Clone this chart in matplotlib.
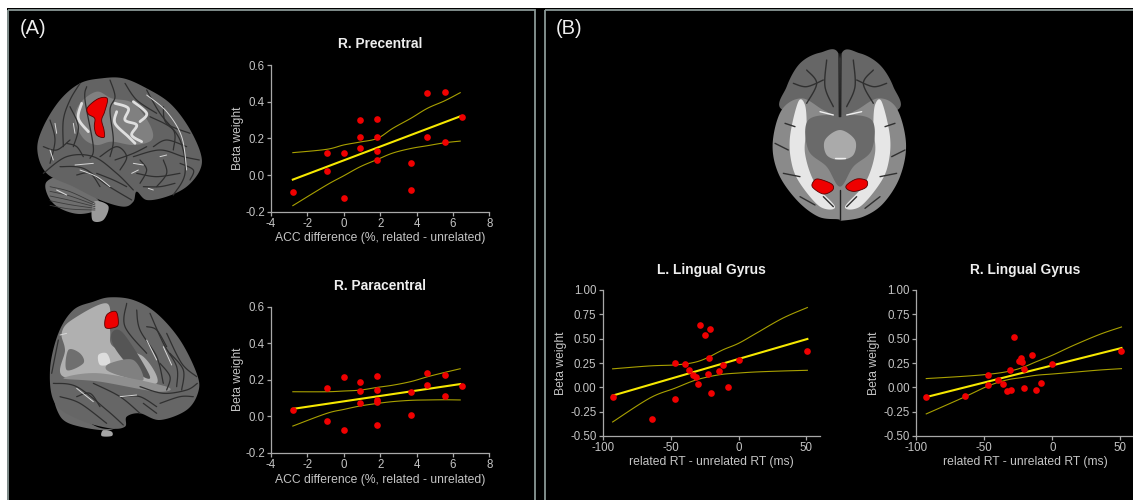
import numpy as np
import matplotlib
matplotlib.use("Agg")
import matplotlib.pyplot as plt
from matplotlib.patches import Polygon, Rectangle

plt.rcParams['font.family'] = ['Liberation Sans', 'DejaVu Sans']

# ---------- data ----------
acc_x = [-2.8, -0.9, -0.9, 0, 0, 0.9, 0.9, 0.9, 1.85, 1.85, 1.85, 1.85, 3.7, 3.7, 4.6, 4.6, 5.55, 5.55, 6.5]
prec_y = [-0.09, 0.12, 0.02, 0.12, -0.125, 0.30, 0.21, 0.15, 0.305, 0.21, 0.13, 0.08, 0.065, -0.08, 0.45, 0.205, 0.455, 0.18, 0.315]
para_x = [-2.8, -0.9, -0.9, 0, 0, 0.9, 0.9, 0.9, 1.85, 1.85, 1.85, 1.85, 1.85, 3.7, 3.7, 4.6, 4.6, 5.55, 5.55, 6.5]
para_y = [0.035, 0.155, -0.025, 0.215, -0.075, 0.185, 0.14, 0.075, 0.22, 0.145, 0.09, 0.08, -0.05, 0.13, 0.005, 0.235, 0.17, 0.225, 0.11, 0.165]

acc_band_x = [-2.8, -0.95, 0, 0.9, 1.85, 2.7, 3.7, 4.6, 5.55, 6.4]
prec_upper = [0.122, 0.14, 0.164, 0.18, 0.2, 0.255, 0.31, 0.364, 0.405, 0.449]
prec_lower = [-0.167, -0.055, -0.004, 0.045, 0.085, 0.12, 0.145, 0.16, 0.176, 0.185]
para_upper = [0.134, 0.134, 0.138, 0.143, 0.158, 0.17, 0.19, 0.216, 0.24, 0.26]
para_lower = [-0.054, 0.015, 0.037, 0.056, 0.07, 0.08, 0.087, 0.089, 0.09, 0.089]
acc_fit_x = [-2.8, 6.4]
prec_fit = [-0.025, 0.32]
para_fit = [0.04, 0.176]

ll_x = [-92.7, -63.6, -47, -47, -39.7, -36.5, -33.6, -31, -30, -28, -24.6, -21.3, -22, -22.5, -20.6, -14.6, -11.7, -8, 0, 50.7]
ll_y = [-0.10, -0.325, 0.25, -0.117, 0.236, 0.182, 0.13, 0.11, 0.035, 0.637, 0.538, 0.603, 0.305, 0.14, -0.055, 0.168, 0.226, 0.0, 0.277, 0.37]
ll_band_x = [-92.7, -65.3, -47, -33.6, -23.8, -11.7, 0, 13, 32.5, 50.7]
ll_upper = [0.19, 0.22, 0.23, 0.253, 0.298, 0.384, 0.452, 0.555, 0.71, 0.82]
ll_lower = [-0.356, -0.11, -0.01, 0.065, 0.103, 0.134, 0.147, 0.158, 0.168, 0.175]
ll_fit_x = [-92.7, 50.7]
ll_fit = [-0.085, 0.497]

rl_x = [-92.7, -63.9, -47.2, -47.2, -39.9, -36.6, -33.7, -30.3, -31, -28.4, -24.7, -22.8, -22, -21, -20.5, -14.7, -11.7, -8, 0, 50.8]
rl_y = [-0.10, -0.09, 0.128, 0.02, 0.08, 0.03, -0.037, -0.024, 0.18, 0.514, 0.27, 0.305, 0.257, 0.192, -0.01, 0.332, -0.024, 0.048, 0.243, 0.375]
rl_band_x = [-92.7, -65.5, -47.2, -33.7, -22.7, -11.7, 0, 15.4, 35, 50.8]
rl_upper = [0.09, 0.113, 0.134, 0.16, 0.2, 0.264, 0.33, 0.43, 0.545, 0.62]
rl_lower = [-0.273, -0.105, 0.014, 0.075, 0.1, 0.124, 0.137, 0.155, 0.178, 0.192]
rl_fit_x = [-92.7, 50.8]
rl_fit = [-0.10, 0.404]

acc_xticks = [-4, -2, 0, 2, 4, 6, 8]
acc_yticks = [-0.2, 0.0, 0.2, 0.4, 0.6]
rt_xticks = [-100, -50, 0, 50]
rt_yticks = [-0.50, -0.25, 0.00, 0.25, 0.50, 0.75, 1.00]
acc_label = "ACC difference (%, related - unrelated)"
rt_label = "related RT - unrelated RT (ms)"
y_label = "Beta weight"

# ---------- figure ----------
W, H = 1133, 500
fig = plt.figure(figsize=(W / 100, H / 100), dpi=100, facecolor='white')
bg = fig.add_axes([0, 0, 1, 1], zorder=0)
bg.set_xlim(0, W); bg.set_ylim(H, 0); bg.axis('off')

bg.add_patch(Rectangle((7, 8), W, H, fc='black', ec='none'))
for r in [(8, 9.5, 527, H), (544.5, 9.5, W, H)]:
    bg.add_patch(Rectangle(r[:2], r[2], r[3], fc='none', ec='#8a9896', lw=1.3))
bg.text(20, 29, "(A)", color='#eeeeee', fontsize=14.5, ha='left', va='center')
bg.text(556, 29, "(B)", color='#eeeeee', fontsize=14.5, ha='left', va='center')


def smooth(pts, closed=True, n=14):
    p = np.asarray(pts, float)
    if closed:
        q = np.vstack([p[-1], p, p[0], p[1]])
    else:
        q = np.vstack([p[0], p, p[-1]])
    out = []
    t = np.linspace(0, 1, n, endpoint=False)[:, None]
    for i in range(1, len(q) - 2):
        a, b, c, d = q[i - 1], q[i], q[i + 1], q[i + 2]
        out.append(0.5 * (2 * b + (c - a) * t + (2 * a - 5 * b + 4 * c - d) * t ** 2 + (3 * b - a - 3 * c + d) * t ** 3))
    out = np.vstack(out)
    return out if closed else np.vstack([out, p[-1]])


def blob(pts, ox, oy, fc, ec='none', lw=0, z=2, s=3.0):
    xy = smooth(np.asarray(pts, float) / s + [ox, oy])
    bg.add_patch(Polygon(xy, closed=True, fc=fc, ec=ec, lw=lw, zorder=z))


def curve(pts, ox, oy, c, lw=1.0, z=3, s=3.0):
    xy = smooth(np.asarray(pts, float) / s + [ox, oy], closed=False)
    bg.plot(xy[:, 0], xy[:, 1], color=c, lw=lw, zorder=z, solid_capstyle='round')


DARK = '#303030'
HI = '#d8d8d8'

# --- lateral brain (top left), outline in zoomed picture units
o = (0, 0)
blob([(140, 545), (200, 530), (285, 590), (300, 625), (240, 642), (180, 625), (145, 590)], *o, '#6e6e6e', z=2)
for k in range(5):
    curve([(150, 560 + k * 14), (210, 575 + k * 13), (285, 610 + k * 5)], *o, '#3c3c3c', 0.6)
curve([(170, 570), (200, 585)], *o, HI, 0.8)
blob([(282, 605), (325, 618), (310, 660), (277, 660)], *o, '#9a9a9a', z=2)
blob([(305, 235), (370, 235), (440, 265), (510, 310), (565, 380), (602, 460), (600, 510), (560, 560), (500, 590),
      (440, 600), (410, 575), (400, 605), (370, 620), (300, 600), (220, 560), (140, 520), (112, 450), (130, 380),
      (180, 300), (240, 250)], *o, '#636363', z=3)
blob([(240, 310), (290, 275), (335, 295), (400, 310), (450, 375), (455, 420), (400, 435), (335, 425), (290, 435),
      (250, 415), (225, 360)], *o, '#808080', z=3)
for c_ in [[(345, 310), (385, 325), (375, 360), (410, 375), (395, 405), (425, 425)],
           [(350, 335), (345, 370), (385, 410), (405, 430)],
           [(245, 310), (235, 355), (265, 395)],
           [(400, 305), (440, 340), (420, 365)]]:
    curve(c_, *o, '#dedede', 2.0, z=4)
sulci1 = [
    [(130, 520), (200, 470), (280, 470), (350, 520), (400, 570)],
    [(180, 500), (250, 505), (320, 555), (395, 600)],
    [(240, 250), (210, 300), (190, 360), (190, 440)],
    [(150, 360), (165, 420), (150, 490)],
    [(330, 240), (345, 290), (330, 330), (340, 420), (330, 470)],
    [(260, 260), (255, 300), (280, 440), (270, 475)],
    [(440, 270), (480, 340), (540, 420), (555, 520), (520, 585)],
    [(400, 470), (480, 450), (550, 470), (598, 480)],
    [(410, 520), (470, 530), (540, 520)],
    [(450, 350), (520, 390), (520, 450)],
    [(345, 480), (400, 460), (440, 440)],
    [(430, 560), (480, 560), (525, 550)],
    [(200, 430), (230, 440), (250, 470)],
    [(130, 440), (170, 450), (210, 420)],
    [(210, 320), (235, 380), (220, 440)],
    [(375, 250), (410, 300), (470, 340)],
    [(490, 320), (500, 370), (570, 400)],
    [(460, 440), (500, 420), (560, 440)],
    [(300, 470), (350, 440), (380, 470), (360, 510)],
    [(420, 480), (440, 510), (420, 550)],
    [(490, 480), (500, 520), (470, 560)],
    [(540, 490), (580, 510), (570, 540)],
    [(230, 525), (270, 520), (300, 560)],
    [(290, 520), (340, 540), (380, 560)],
]
for c_ in sulci1:
    curve(c_, *o, DARK, 0.9, z=4)
for c_ in [[(225, 495), (280, 490)], [(240, 510), (290, 530), (330, 560)], [(440, 285), (500, 335), (545, 410), (560, 510)],
           [(400, 490), (430, 495)], [(165, 370), (170, 400)], [(445, 565), (460, 570)], [(220, 370), (225, 400)],
           [(150, 450), (160, 480)], [(480, 470), (500, 465)], [(395, 520), (415, 510)]]:
    curve(c_, *o, HI, 0.7, z=5)
blob([(263, 322), (295, 296), (322, 296), (314, 335), (305, 360), (312, 390), (312, 412), (290, 405), (283, 380), (284, 355), (265, 342)],
     *o, '#ee0000', ec='#5a0000', lw=0.6, z=6)

# --- sagittal cut brain (bottom left)
o = (0, 270)
blob([(310, 480), (335, 485), (335, 498), (305, 498)], *o, '#a5a5a5', z=2)
blob([(165, 385), (230, 430), (290, 470), (340, 475), (375, 450), (330, 480), (240, 470), (185, 445)], *o, '#6a6a6a', z=2)
blob([(330, 82), (400, 90), (470, 130), (540, 210), (590, 310), (595, 365), (560, 420), (480, 450), (420, 430),
      (380, 440), (375, 470), (330, 475), (240, 450), (165, 400), (150, 300), (175, 190), (220, 120), (280, 95)], *o, '#666666', z=3)
blob([(215, 150), (320, 100), (330, 180), (340, 230), (430, 260), (470, 340), (350, 320), (190, 320), (195, 240), (185, 190)],
     *o, '#b0b0b0', z=4)
blob([(205, 240), (240, 250), (250, 280), (200, 300)], *o, '#6f6f6f', z=5)
blob([(335, 190), (370, 190), (450, 320), (400, 300), (345, 235)], *o, '#555555', z=5)
blob([(295, 255), (320, 250), (330, 280), (300, 285)], *o, '#dddddd', z=5)
blob([(330, 280), (400, 270), (430, 330), (370, 320), (320, 300)], *o, '#808080', z=5)
blob([(190, 325), (300, 310), (500, 350), (470, 365), (300, 335)], *o, '#8f8f8f', z=5)
sulci2 = [
    [(160, 340), (230, 350), (320, 420), (370, 465)],
    [(180, 380), (240, 400), (320, 460)],
    [(280, 340), (360, 380), (420, 430)],
    [(420, 350), (490, 370), (560, 360), (592, 340)],
    [(410, 120), (420, 180), (470, 260), (490, 340)],
    [(450, 130), (490, 220), (530, 290), (530, 350)],
    [(380, 100), (375, 170), (440, 250)],
    [(500, 190), (545, 280), (590, 320)],
    [(480, 400), (540, 380), (580, 380)],
    [(430, 400), (470, 430)],
    [(175, 210), (165, 260), (155, 310)],
    [(440, 170), (470, 180), (500, 230)],
    [(510, 250), (550, 300), (545, 360)],
    [(480, 280), (510, 320), (500, 360)],
    [(370, 380), (420, 380), (470, 410)],
    [(230, 380), (270, 370), (300, 410)],
]
for c_ in sulci2:
    curve(c_, *o, DARK, 0.9, z=6)
for c_ in [[(230, 355), (280, 395)], [(490, 230), (515, 285)], [(180, 195), (200, 190)], [(360, 380), (410, 375)], [(440, 210), (470, 270)]]:
    curve(c_, *o, HI, 0.7, z=7)
blob([(320, 135), (348, 125), (355, 160), (345, 172), (316, 172)], *o, '#ee0000', ec='#5a0000', lw=0.6, z=8)

# --- axial brain (top right)
o = (740, 30)
blob([(297, 75), (240, 68), (180, 100), (140, 170), (128, 240), (300, 260)], *o, '#666666', z=2)
blob([(303, 75), (360, 70), (420, 105), (460, 170), (472, 240), (300, 260)], *o, '#666666', z=2)
blob([(125, 240), (185, 205), (250, 240), (300, 260), (350, 240), (415, 205), (470, 235), (498, 340), (480, 440), (430, 520),
      (370, 560), (305, 572), (295, 568), (235, 560), (170, 510), (115, 430), (98, 340)], *o, '#8a8a8a', z=3)
blob([(175, 215), (195, 225), (200, 290), (195, 370), (225, 460), (285, 530), (240, 530), (180, 460), (155, 400), (150, 320)], *o, '#e6e6e6', z=4)
blob([(425, 215), (405, 225), (400, 290), (405, 370), (375, 460), (315, 530), (360, 530), (420, 460), (445, 400), (450, 320)], *o, '#e6e6e6', z=4)
blob([(205, 270), (300, 255), (395, 270), (395, 360), (340, 410), (300, 470), (260, 410), (205, 360)], *o, '#6a6a6a', z=5)
blob([(255, 330), (300, 300), (345, 330), (340, 375), (300, 390), (260, 375)], *o, '#aaaaaa', z=6)
for c_ in [[(297, 72), (298, 260)], [(303, 72), (302, 260)], [(300, 480), (300, 570)]]:
    curve(c_, *o, '#222222', 1.0, z=7)
for c_ in [[(200, 120), (230, 160), (200, 220)], [(160, 160), (200, 170), (250, 150)], [(260, 90), (255, 170), (280, 230)],
           [(400, 120), (370, 160), (400, 220)], [(440, 160), (400, 170), (350, 150)], [(340, 90), (345, 170), (320, 230)],
           [(135, 280), (165, 290)], [(105, 340), (145, 360)], [(130, 430), (180, 440)], [(180, 500), (225, 525)],
           [(465, 280), (435, 290)], [(495, 360), (455, 380)], [(470, 430), (420, 440)], [(420, 500), (375, 535)],
           [(250, 500), (280, 530)], [(350, 500), (320, 530)]]:
    curve(c_, *o, DARK, 1.0, z=7)
for c_ in [[(240, 245), (280, 255)], [(320, 255), (365, 245)], [(285, 385), (315, 385)]]:
    curve(c_, *o, '#f0f0f0', 1.0, z=8)
blob([(220, 455), (235, 447), (275, 462), (278, 480), (250, 492), (218, 472)], *o, '#ee0000', ec='#5a0000', lw=0.6, z=9)
blob([(320, 465), (350, 447), (380, 452), (378, 472), (345, 484), (322, 478)], *o, '#ee0000', ec='#5a0000', lw=0.6, z=9)


# ---------- scatter panels ----------
def panel(box, xlim, ylim, xticks, yticks, yfmt, sx, sy, bx, up, lo, fx, fy, title, xlabel, ylabel_x, title_y, xlabel_y):
    x0, y0, x1, y1 = box
    ax = fig.add_axes([x0 / W, 1 - y1 / H, (x1 - x0) / W, (y1 - y0) / H], zorder=2)
    ax.patch.set_alpha(0)
    ax.set_xlim(*xlim); ax.set_ylim(*ylim)
    for s in ('top', 'right'):
        ax.spines[s].set_visible(False)
    for s in ('left', 'bottom'):
        ax.spines[s].set_color('#a8a8a8'); ax.spines[s].set_linewidth(0.9)
    ax.set_xticks(xticks); ax.set_yticks(yticks)
    ax.set_yticklabels([yfmt % v for v in yticks])
    ax.set_xticklabels([str(v) for v in xticks])
    ax.tick_params(colors='#a8a8a8', labelcolor='#c4c4c4', labelsize=8.3, length=3, width=0.9, pad=1.5)
    # the band curves are read at these x values; the splines only round the line between them
    for vals in (up, lo):
        line = smooth(np.column_stack([bx, vals]), closed=False, n=8)
        ax.plot(line[:, 0], line[:, 1], color='#a8a000', lw=0.8, zorder=3, clip_on=False)
    ax.plot(fx, fy, color='#f6e800', lw=1.5, zorder=4, clip_on=False)
    ax.scatter(sx, sy, s=23, color='#f00000', zorder=5, clip_on=False, linewidths=0)
    cx = (x0 + x1) / 2
    axx = lambda px: (px - x0) / (x1 - x0)
    axy = lambda py: (y1 - py) / (y1 - y0)
    ax.set_xlabel(xlabel, color='#c4c4c4', fontsize=8.75, labelpad=0)
    ax.xaxis.set_label_coords(axx(cx), axy(xlabel_y), transform=ax.transAxes)
    ax.xaxis.label.set_verticalalignment('center')
    ax.set_ylabel(y_label, color='#c4c4c4', fontsize=8.75, labelpad=0)
    ax.yaxis.set_label_coords(axx(ylabel_x), 0.5, transform=ax.transAxes)
    ax.yaxis.label.set_verticalalignment('center')
    ax.text(axx(cx), axy(title_y), title, transform=ax.transAxes, color='#eeeeee', fontsize=9.9, fontweight='bold',
            ha='center', va='center')
    return ax


panel((271, 65, 489.3, 211.7), (-4, 8), (-0.2, 0.6), acc_xticks, acc_yticks, '%.1f', acc_x, prec_y,
      acc_band_x, prec_upper, prec_lower, acc_fit_x, prec_fit, "R. Precentral", acc_label, 238, 44, 238.5)
panel((271, 306.7, 489.3, 452.7), (-4, 8), (-0.2, 0.6), acc_xticks, acc_yticks, '%.1f', para_x, para_y,
      acc_band_x, para_upper, para_lower, acc_fit_x, para_fit, "R. Paracentral", acc_label, 238, 286, 480)
panel((602.7, 290, 820, 436), (-100, 60), (-0.5, 1.0), rt_xticks, rt_yticks, '%.2f', ll_x, ll_y,
      ll_band_x, ll_upper, ll_lower, ll_fit_x, ll_fit, "L. Lingual Gyrus", rt_label, 561, 270, 462)
panel((916.3, 290, 1134, 436), (-100, 60), (-0.5, 1.0), rt_xticks, rt_yticks, '%.2f', rl_x, rl_y,
      rl_band_x, rl_upper, rl_lower, rl_fit_x, rl_fit, "R. Lingual Gyrus", rt_label, 874, 270, 462)

fig.savefig('out.png', dpi=100, facecolor='white')
